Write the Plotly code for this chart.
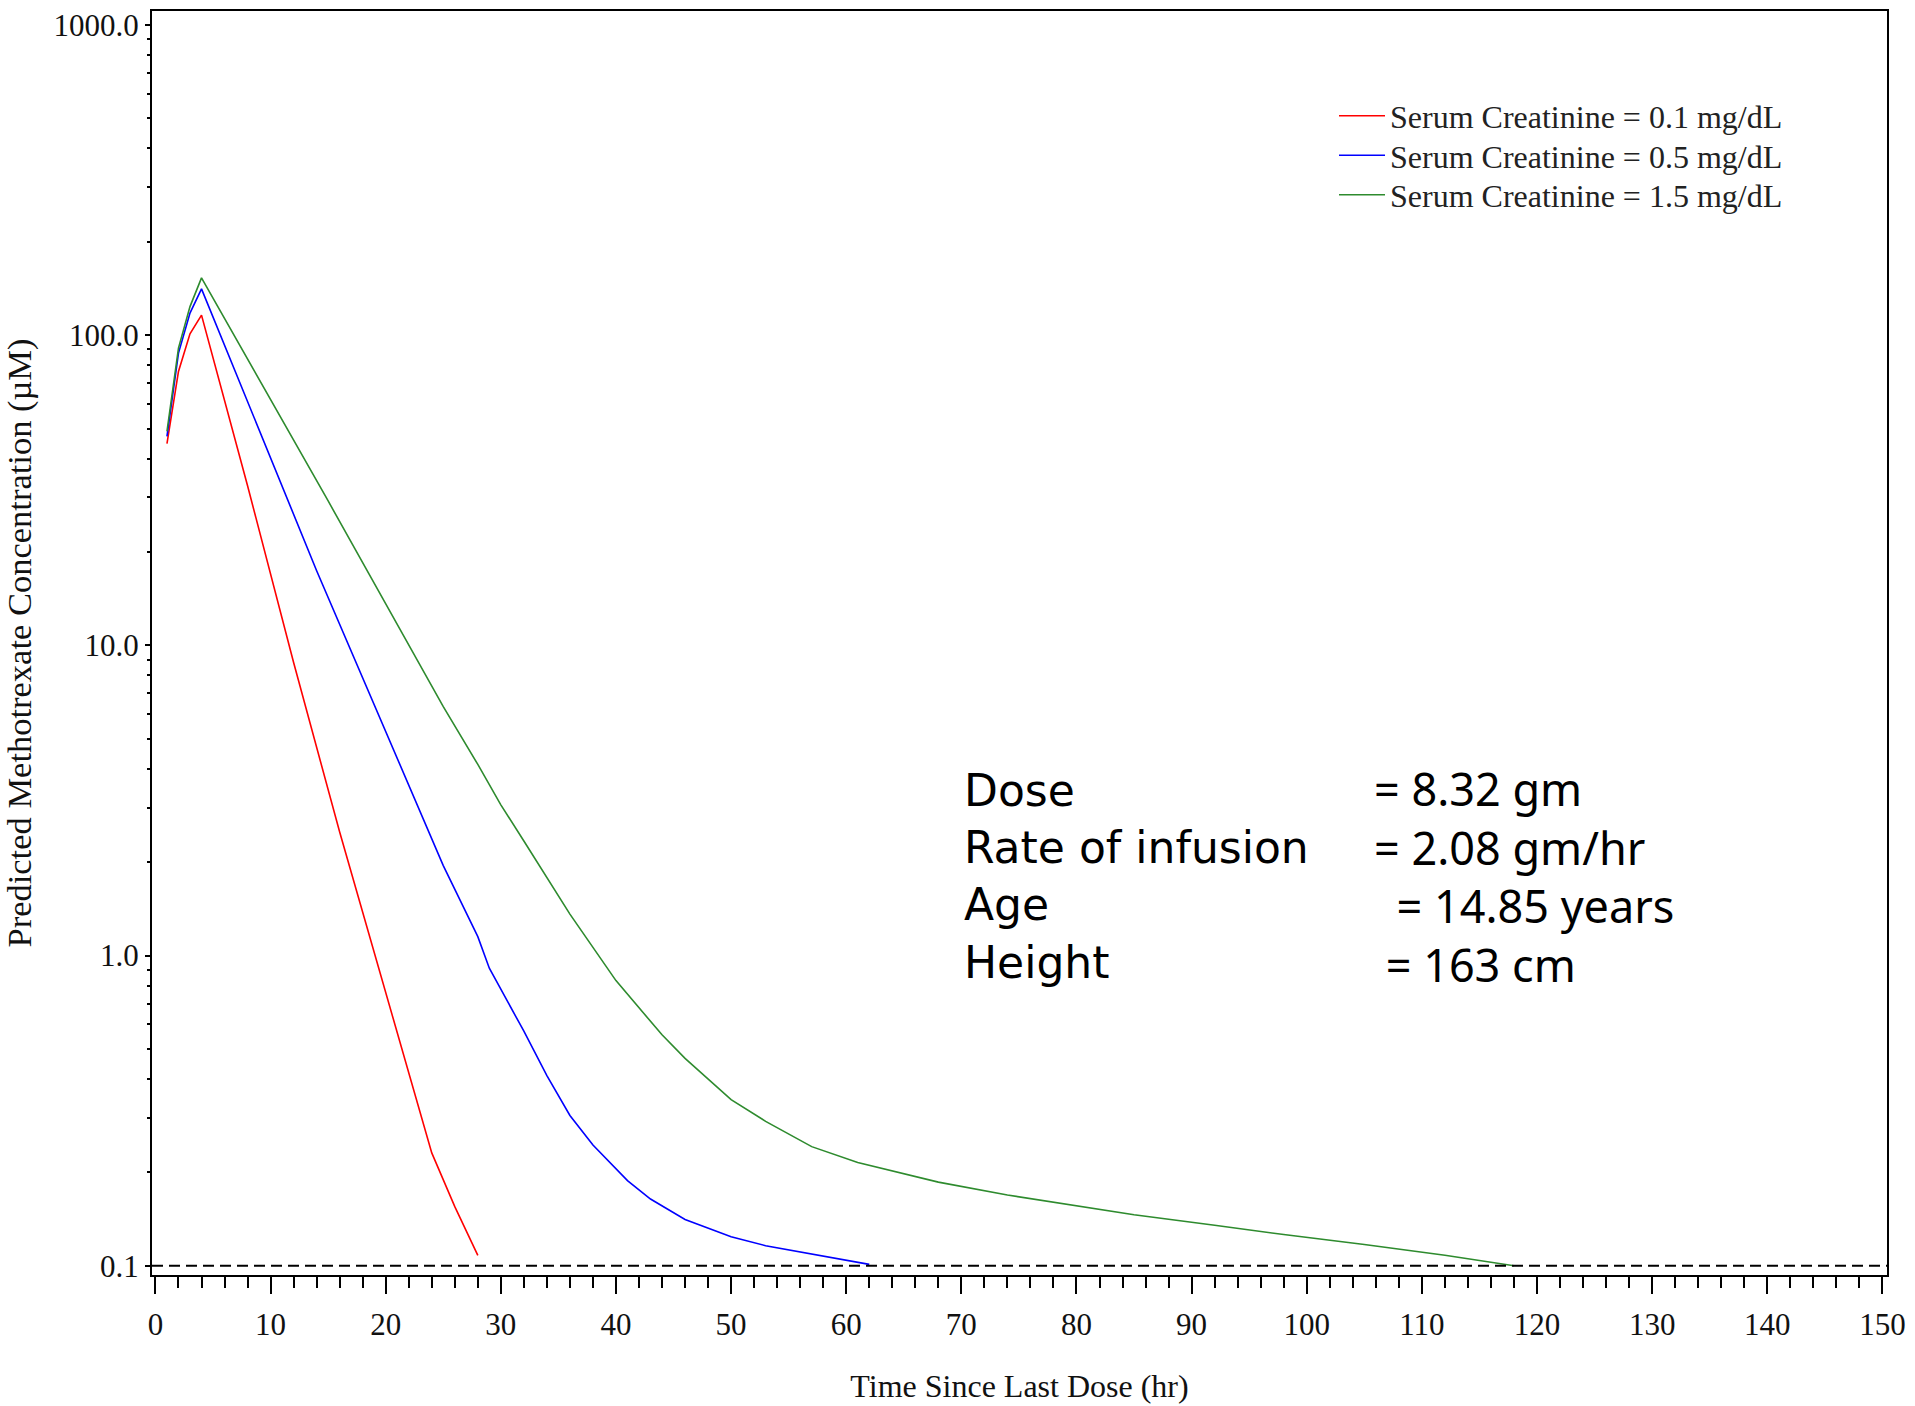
import plotly.graph_objects as go

# Predicted methotrexate concentration (uM) by hours since last dose,
# one curve per serum creatinine level.
hours_scr_01 = [1, 2, 3, 4, 8, 12, 16, 20, 22, 24, 26, 28]
conc_scr_01 = [44.7, 76.4, 101, 116, 32.7, 8.8, 2.5, 0.76, 0.42, 0.231, 0.155, 0.108]

hours_scr_05 = [1, 2, 3, 4, 14, 20, 22, 25, 28, 29, 32, 34, 36, 38, 41, 43, 46, 50, 53, 57, 62]
conc_scr_05 = [47.2, 87.5, 117.8, 141, 17.4, 5.3, 3.55, 1.95, 1.15, 0.91, 0.57, 0.41, 0.305,
               0.245, 0.188, 0.164, 0.141, 0.124, 0.116, 0.109, 0.101]

hours_scr_15 = [1, 2, 3, 4, 15, 25, 28, 30, 32, 36, 40, 44, 46, 50, 53, 57, 61, 65, 68,
                74, 80, 85, 92, 98, 105, 108, 112, 118]
conc_scr_15 = [49.0, 90.8, 123.6, 153, 29.2, 6.34, 4.13, 3.06, 2.34, 1.36, 0.83, 0.555,
               0.466, 0.343, 0.292, 0.242, 0.215, 0.198, 0.186, 0.169, 0.156, 0.146,
               0.135, 0.126, 0.117, 0.113, 0.108, 0.100]

series_names = [
    "Serum Creatinine = 0.1 mg/dL",
    "Serum Creatinine = 0.5 mg/dL",
    "Serum Creatinine = 1.5 mg/dL",
]
series_colors = ["#ff0000", "#0000ff", "#2e8b2e"]

threshold = 0.1

y_tick_vals = [0.1, 1, 10, 100, 1000]
y_tick_text = ["0.1", "1.0", "10.0", "100.0", "1000.0"]
x_tick_vals = list(range(0, 151, 10))

info_labels = ["Dose", "Rate of infusion", "Age", "Height"]
info_values = ["= 8.32 gm", "= 2.08 gm/hr", "\u2002= 14.85 years", "\u00a0= 163 cm"]

SERIF = "Liberation Serif, Times New Roman, serif"

# page-pixel geometry of the plotting area
W, H = 1915, 1406
L, R, T, B = 152, 28, 11, 131
pw, ph = W - L - R, H - T - B


def px(xp):
    return (xp - L) / pw


def py(yp):
    return (H - B - yp) / ph


legend_ids = ["legend", "legend2", "legend3"]
legend_rows_y = [116, 155.5, 195]

fig = go.Figure()
for hrs, conc, name, col, lg in zip(
    [hours_scr_01, hours_scr_05, hours_scr_15],
    [conc_scr_01, conc_scr_05, conc_scr_15],
    series_names,
    series_colors,
    legend_ids,
):
    fig.add_trace(go.Scatter(
        x=hrs, y=conc, mode="lines", name=name, legend=lg,
        line=dict(color=col, width=1.6),
    ))

# reference level drawn across the whole plot
fig.add_hline(y=threshold, line=dict(color="black", width=2, dash="11px,6px"))

# dosing details block: a column of labels and a column of values
fig.add_annotation(
    text="<br>".join(info_labels), xref="paper", yref="paper",
    x=px(962), y=py(876.5), xanchor="left", yanchor="middle", align="left",
    showarrow=False, font=dict(family="DejaVu Sans, sans-serif", size=44, color="black"),
)
fig.add_annotation(
    text="<br>".join(info_values), xref="paper", yref="paper",
    x=px(1372), y=py(876.5), xanchor="left", yanchor="middle", align="left",
    showarrow=False, font=dict(family="Noto Sans, sans-serif", size=45, color="black"),
)

legend_style = dict(
    xanchor="left", yanchor="middle",
    bgcolor="rgba(0,0,0,0)", borderwidth=0,
    font=dict(family=SERIF, size=32, color="#222222"),
    itemwidth=46,
)
fig.update_layout(
    width=W, height=H,
    margin=dict(l=L, r=R, t=T, b=B, autoexpand=False),
    paper_bgcolor="white", plot_bgcolor="white",
    font=dict(family=SERIF, size=31, color="#111111"),
    showlegend=True,
    legend=dict(x=px(1334), y=py(legend_rows_y[0]), **legend_style),
    legend2=dict(x=px(1334), y=py(legend_rows_y[1]), **legend_style),
    legend3=dict(x=px(1334), y=py(legend_rows_y[2]), **legend_style),
)

fig.update_xaxes(
    range=[-0.3, 150.4],
    tickvals=x_tick_vals,
    ticks="outside", ticklen=17, tickwidth=1.5, tickcolor="black",
    minor=dict(dtick=2, tick0=0, ticks="outside", ticklen=11, tickwidth=1.5, tickcolor="black"),
    showline=True, linecolor="black", linewidth=2, mirror=True,
    showgrid=False, zeroline=False,
    tickfont=dict(family=SERIF, size=31, color="#111111"),
    ticklabelstandoff=4,
    title=dict(text="Time Since Last Dose (hr)", standoff=33,
               font=dict(family=SERIF, size=32, color="#111111")),
    automargin=False,
)

fig.update_yaxes(
    type="log",
    range=[-1.03, 3.045],
    tickvals=y_tick_vals, ticktext=y_tick_text,
    ticks="outside", ticklen=5, tickwidth=1.5, tickcolor="black",
    minor=dict(dtick="D1", ticks="outside", ticklen=3, tickwidth=1.5, tickcolor="black"),
    showline=True, linecolor="black", linewidth=2, mirror=True,
    showgrid=False, zeroline=False,
    tickfont=dict(family=SERIF, size=31, color="#111111"),
    title=dict(text="Predicted Methotrexate Concentration (µM)", standoff=15,
               font=dict(family=SERIF, size=34.5, color="#111111")),
    automargin=False,
)

fig.write_html("out.html")
